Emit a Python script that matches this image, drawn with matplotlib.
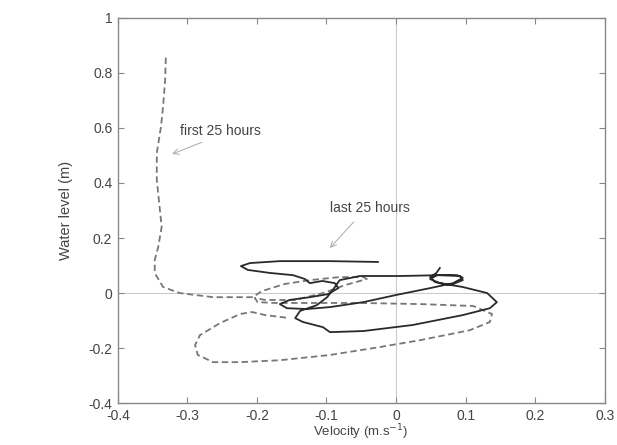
import matplotlib.pyplot as plt

plt.rcParams['font.family'] = ['Liberation Sans', 'DejaVu Sans']

# ── first 25 hours (dashed) ──
v_first = [-0.331, -0.332, -0.335, -0.338, -0.344, -0.344, -0.340, -0.337, -0.342, -0.347,
           -0.347, -0.335, -0.311, -0.263, -0.206, -0.193, -0.160, -0.124, -0.081, -0.047,
           -0.042, -0.073, -0.105, -0.145, -0.188, -0.203, -0.199, -0.174, -0.124, -0.052,
           0.035, 0.111, 0.138, 0.135, 0.106, 0.035, -0.023, -0.095, -0.167, -0.224,
           -0.263, -0.285, -0.289, -0.282, -0.253, -0.224, -0.207, -0.188, -0.153]
w_first = [0.855, 0.775, 0.676, 0.604, 0.509, 0.411, 0.313, 0.240, 0.167, 0.120,
           0.073, 0.022, 0.000, -0.015, -0.015, 0.007, 0.033, 0.047, 0.058, 0.058,
           0.051, 0.029, 0.000, -0.025, -0.025, -0.018, -0.033, -0.036, -0.036, -0.036,
           -0.040, -0.047, -0.076, -0.105, -0.135, -0.171, -0.196, -0.225, -0.244, -0.251,
           -0.251, -0.225, -0.189, -0.153, -0.109, -0.076, -0.069, -0.080, -0.091]

# ── last 25 hours (solid) ──
v_last = [-0.026, -0.095, -0.167, -0.210, -0.223, -0.213, -0.181, -0.148, -0.131, -0.124,
          -0.106, -0.088, -0.083, -0.098, -0.124, -0.153, -0.167, -0.157, -0.128, -0.095,
          -0.047, 0.000, 0.049, 0.082, 0.096, 0.088, 0.059, 0.049, 0.063, 0.096,
          0.131, 0.145, 0.135, 0.096, 0.024, -0.047, -0.095, -0.105, -0.134, -0.145,
          -0.138, -0.114, -0.099, -0.091, -0.081, -0.052, 0.006, 0.063, 0.092, 0.096,
          0.078, 0.056, 0.049, 0.058, 0.063]
w_last = [0.113, 0.116, 0.116, 0.109, 0.098, 0.084, 0.073, 0.065, 0.051, 0.036,
          0.044, 0.036, 0.018, -0.004, -0.015, -0.025, -0.040, -0.055, -0.058, -0.051,
          -0.033, -0.007, 0.018, 0.036, 0.055, 0.065, 0.065, 0.051, 0.036, 0.022,
          0.000, -0.033, -0.055, -0.080, -0.116, -0.138, -0.142, -0.124, -0.105, -0.091,
          -0.065, -0.044, -0.015, 0.011, 0.047, 0.062, 0.062, 0.065, 0.062, 0.047,
          0.029, 0.040, 0.058, 0.073, 0.091]

x_ticks = [-0.4, -0.3, -0.2, -0.1, 0, 0.1, 0.2, 0.3]
y_ticks = [-0.4, -0.2, 0, 0.2, 0.4, 0.6, 0.8, 1]

fig = plt.figure(figsize=(6.17, 4.45), dpi=100)
ax = fig.add_axes([0.191, 0.094, 0.789, 0.866])

ax.axhline(0, color='#cccccc', linewidth=0.8, zorder=0)
ax.axvline(0, color='#cccccc', linewidth=0.8, zorder=0)

ax.plot(v_first, w_first, color='#777777', linewidth=1.3, linestyle=(0, (3.5, 2)),
        dash_joinstyle='round')
ax.plot(v_last, w_last, color='#2a2a2a', linewidth=1.3, solid_joinstyle='round')

arrow = dict(arrowstyle='->', color='#aaaaaa', lw=0.7, shrinkA=0, shrinkB=0)
ax.text(-0.311, 0.575, 'first 25 hours', fontsize=10, color='#444444',
        ha='left', va='baseline')
ax.annotate('', xy=(-0.322, 0.505), xytext=(-0.279, 0.548), arrowprops=arrow)
ax.text(-0.095, 0.295, 'last 25 hours', fontsize=10, color='#444444',
        ha='left', va='baseline')
ax.annotate('', xy=(-0.095, 0.164), xytext=(-0.061, 0.258), arrowprops=arrow)

ax.set_xlim(-0.4, 0.3)
ax.set_ylim(-0.4, 1)
ax.set_xticks(x_ticks)
ax.set_xticklabels([f'{t:g}' for t in x_ticks])
ax.set_yticks(y_ticks)
ax.set_yticklabels([f'{t:g}' for t in y_ticks])
ax.tick_params(direction='in', top=True, right=True, length=4, width=0.8,
               color='#888888', labelcolor='#444444', labelsize=10)
ax.tick_params(axis='x', pad=4)
ax.tick_params(axis='y', pad=4)
for sp in ax.spines.values():
    sp.set_color('#888888')
    sp.set_linewidth(1.0)

ax.set_xlabel('Velocity (m.s$^{-1}$)', fontsize=9.5, color='#444444', labelpad=0)
ax.set_ylabel('Water level (m)', fontsize=10.5, color='#444444', labelpad=11)

plt.savefig('out.png', dpi=100)
